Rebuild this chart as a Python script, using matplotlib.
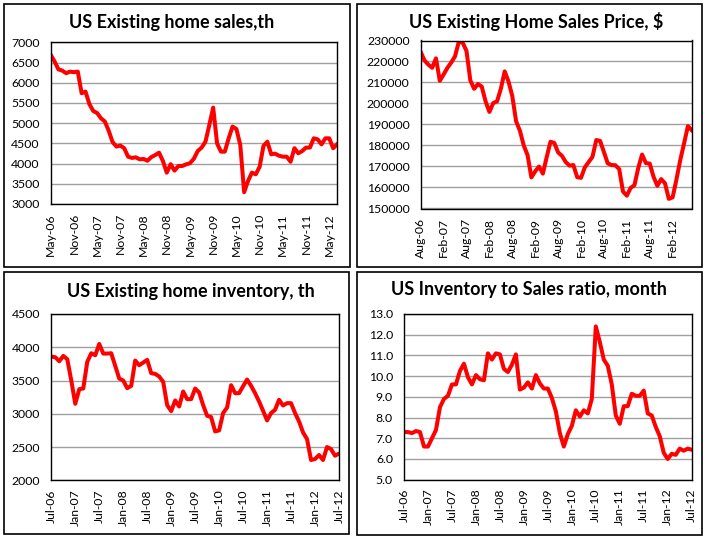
"""
Four panel view of US existing home market: sales, median price,
inventory and the inventory to sales ratio.
"""

import matplotlib
matplotlib.use('Agg')
import matplotlib.pyplot as plt
from matplotlib.patches import Rectangle
from matplotlib.ticker import FormatStrFormatter

WIDTH, HEIGHT, DPI = 7.08, 5.38, 100
W_PX, H_PX = 708, 538
LINE_COLOR = '#FF0000'
GRID_COLOR = '#A0A0A0'

plt.rcParams['font.family'] = ['Lato', 'DejaVu Sans']

# Data (monthly)
# existing home sales, thousands, May-06 .. Jul-12
sales = [6690, 6525, 6330, 6300, 6235, 6275, 6260, 6275,
         5740, 5780, 5470, 5300, 5250, 5120, 5040, 4810, 4530, 4420, 4445, 4380,
         4170, 4140, 4155, 4105, 4115, 4070, 4160, 4210, 4270, 4065, 3775, 3985,
         3825, 3940, 3940, 3980, 4010, 4120, 4310, 4395, 4540, 4955, 5385, 4500,
         4295, 4295, 4625, 4915, 4855, 4460, 3290, 3570, 3775, 3735, 3920, 4440,
         4540, 4230, 4245, 4195, 4170, 4170, 4045, 4380, 4255, 4310, 4395, 4395,
         4625, 4600, 4475, 4625, 4625, 4380, 4475]
sales_labels = ['May-06', 'Nov-06', 'May-07', 'Nov-07', 'May-08', 'Nov-08',
                'May-09', 'Nov-09', 'May-10', 'Nov-10', 'May-11', 'Nov-11',
                'May-12']

# median sales price, $, Aug-06 .. Jul-12
price = [224500, 220500, 218500, 217000, 221500,
         210800, 213800, 217000, 219500, 222500, 229500, 229000, 225000,
         211000, 207000, 209300, 208000,
         201000, 196000, 200200, 201000, 207000, 215300, 210500, 203500,
         191500, 187000, 180000, 175400,
         164800, 167700, 170000, 166600, 174400, 181800, 181200, 176700,
         175100, 172100, 170400, 170700,
         164900, 164600, 169600, 172100, 174600, 182600, 182200, 176900,
         171500, 170700, 170600, 168800,
         158100, 156100, 159800, 161100, 169300, 175700, 171600, 171400,
         165100, 160800, 164000, 162000,
         154600, 155300, 163800, 173000, 181000, 189200, 187300]
price_labels = ['Aug-06', 'Feb-07', 'Aug-07', 'Feb-08', 'Aug-08', 'Feb-09',
                'Aug-09', 'Feb-10', 'Aug-10', 'Feb-11', 'Aug-11', 'Feb-12']

# inventory, thousands, Jul-06 .. Jul-12
inventory = [3860, 3850, 3790, 3870, 3820, 3500,
             3150, 3370, 3380, 3780, 3910, 3880, 4050, 3905, 3905, 3910, 3720, 3530,
             3500, 3385, 3420, 3800, 3730, 3770, 3810, 3610, 3600, 3560, 3480, 3130,
             3040, 3200, 3110, 3335, 3220, 3220, 3380, 3320, 3130, 2970, 2950, 2735,
             2750, 3010, 3095, 3430, 3310, 3310, 3415, 3515, 3420, 3310, 3185, 3045,
             2900, 3010, 3060, 3210, 3125, 3160, 3160, 3010, 2885, 2720, 2620, 2305,
             2320, 2380, 2305, 2500, 2470, 2370, 2400]
inventory_labels = ['Jul-06', 'Jan-07', 'Jul-07', 'Jan-08', 'Jul-08', 'Jan-09',
                    'Jul-09', 'Jan-10', 'Jul-10', 'Jan-11', 'Jul-11', 'Jan-12',
                    'Jul-12']

# months of supply, Jul-06 .. Jul-12
ratio = [7.3, 7.3, 7.25, 7.35, 7.3, 6.6,
         6.6, 7.0, 7.4, 8.5, 8.9, 9.05, 9.6, 9.6, 10.25, 10.6, 9.95, 9.6,
         10.05, 9.85, 9.8, 11.1, 10.8, 11.1, 11.05, 10.35, 10.2, 10.55, 11.05, 9.35,
         9.45, 9.7, 9.4, 10.05, 9.65, 9.4, 9.4, 8.95, 8.3, 7.25, 6.6, 7.2,
         7.6, 8.35, 8.05, 8.35, 8.2, 8.9, 12.4, 11.65, 10.8, 10.5, 9.6, 8.1,
         7.7, 8.55, 8.55, 9.15, 9.05, 9.05, 9.3, 8.2, 8.1, 7.55, 7.1, 6.3,
         6.0, 6.25, 6.2, 6.5, 6.4, 6.5, 6.45]
ratio_labels = inventory_labels

# Layout in pixels: frame (l, t, r, b), axes (l, t, r, b), title centre (x, y)
panels = [
    dict(title='US Existing home sales,th', y=sales, labels=sales_labels,
         yticks=list(range(3000, 7001, 500)), fmt='%d',
         frame=(4, 4, 350, 267), axes=(50.7, 42.3, 337, 204), tpos=(172, 22.5)),
    dict(title='US Existing Home Sales Price, $', y=price, labels=price_labels,
         yticks=list(range(150000, 230001, 10000)), fmt='%d',
         frame=(357, 4, 702, 267), axes=(420.7, 40.5, 691.7, 208.5), tpos=(536, 21.5)),
    dict(title='US Existing home inventory, th', y=inventory, labels=inventory_labels,
         yticks=list(range(2000, 4501, 500)), fmt='%d',
         frame=(4, 272, 349, 534), axes=(51.3, 314, 339, 480.3), tpos=(191, 291.5)),
    dict(title='US Inventory to Sales ratio, month', y=ratio, labels=ratio_labels,
         yticks=[5.0, 6.0, 7.0, 8.0, 9.0, 10.0, 11.0, 12.0, 13.0], fmt='%.1f',
         frame=(357, 272, 702, 535), axes=(404, 314, 691.7, 479.7), tpos=(528.5, 289.5)),
]


def px_rect(l, t, r, b):
    return [l / W_PX, 1 - b / H_PX, (r - l) / W_PX, (b - t) / H_PX]


fig = plt.figure(figsize=(WIDTH, HEIGHT), dpi=DPI)
fig.patch.set_facecolor('white')

for p in panels:
    # chart area border
    fl, ft, fr, fb = p['frame']
    fig.patches.append(Rectangle((fl / W_PX, 1 - fb / H_PX),
                                 (fr - fl) / W_PX, (fb - ft) / H_PX,
                                 transform=fig.transFigure, fill=False,
                                 edgecolor='black', linewidth=1.2))

    ax = fig.add_axes(px_rect(*p['axes']))
    x = list(range(len(p['y'])))
    ax.plot(x, p['y'], color=LINE_COLOR, lw=2.9, solid_joinstyle='round')

    ax.set_xlim(0, len(x) - 1)
    ax.set_ylim(p['yticks'][0], p['yticks'][-1])
    ax.set_yticks(p['yticks'])
    ax.yaxis.set_major_formatter(FormatStrFormatter(p['fmt']))
    ax.set_xticks([6 * i for i in range(len(p['labels']))])
    ax.set_xticklabels(p['labels'], rotation=90, va='top', ha='center')

    ax.yaxis.grid(True, color=GRID_COLOR, lw=1)
    ax.set_axisbelow(True)
    for s in ax.spines.values():
        s.set_color('black')
        s.set_linewidth(1)
    ax.tick_params(axis='both', length=0, labelsize=8.8, colors='black')
    ax.tick_params(axis='y', pad=8)
    ax.tick_params(axis='x', pad=6.5)

    tx, ty = p['tpos']
    fig.text(tx / W_PX, 1 - ty / H_PX, p['title'], ha='center', va='center',
             fontsize=13, fontweight='bold')

fig.savefig('out.png', dpi=DPI)
